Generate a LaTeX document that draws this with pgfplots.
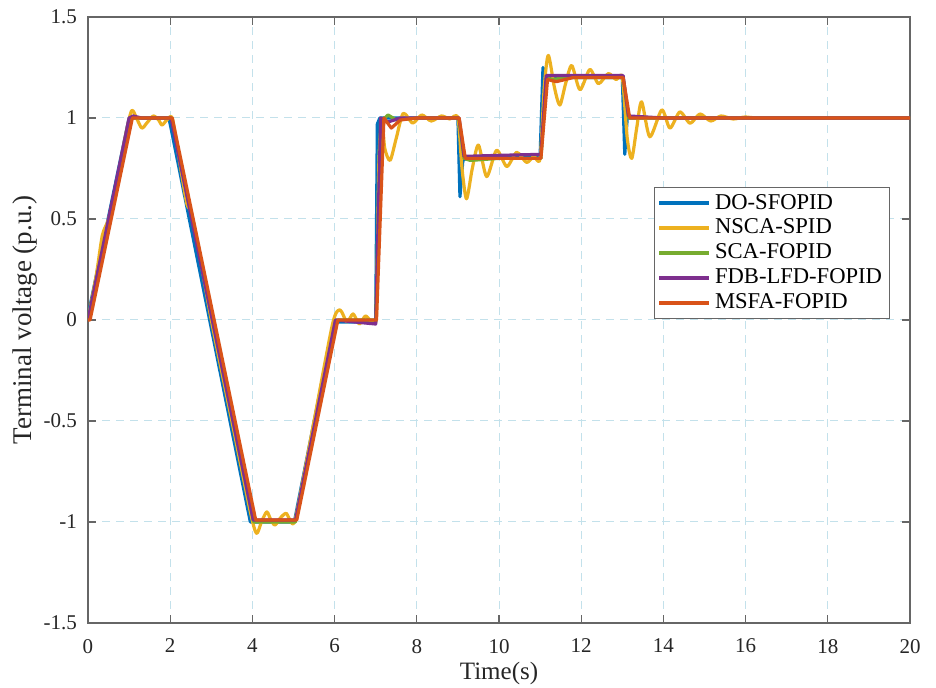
\documentclass[border=0pt]{standalone}
\usepackage{pgfplots}
\pgfplotsset{compat=1.18}
\usepackage{fontspec}
\setmainfont{Liberation Serif}
\definecolor{mblue}{rgb}{0,0.447,0.741}
\definecolor{myellow}{rgb}{0.929,0.694,0.125}
\definecolor{mgreen}{rgb}{0.466,0.674,0.188}
\definecolor{mpurple}{rgb}{0.494,0.184,0.556}
\definecolor{morange}{rgb}{0.85,0.325,0.098}
\definecolor{gridc}{RGB}{195,225,235}
\begin{document}
\begin{tikzpicture}
\begin{axis}[name=ax,
  scale only axis, width=411pt, height=303pt,
  xmin=0, xmax=20, ymin=-1.5, ymax=1.5,
  xtick={0,2,...,20}, ytick={-1.5,-1,-0.5,0,0.5,1,1.5},
  /pgf/number format/assume math mode=true,
  tick align=inside, tick pos=both, major tick length=4pt,
  axis line style={black!60, line width=0.6pt},
  tick style={black!60, line width=0.6pt},
  grid=major, major grid style={gridc, dash pattern=on 4pt off 3pt, line width=0.5pt},
  ticklabel style={font=\fontsize{10.5}{12}\selectfont, text=black!85},
  xticklabel style={yshift=-4.5pt},
  yticklabel style={xshift=-2pt},
  xlabel={Time(s)}, ylabel={Terminal voltage (p.u.)},
  xlabel style={font=\fontsize{12.5}{14}\selectfont, at={(axis description cs:0.5,-0.0825)}, anchor=center, text=black!85},
  ylabel style={font=\fontsize{13.5}{15}\selectfont, at={(axis description cs:-0.077,0.5)}, anchor=center, rotate=0, text=black!85},
  legend style={at={(rel axis cs:0.975,0.72)}, anchor=north east, draw=black!60, font=\fontsize{11.3}{13.5}\selectfont, cells={anchor=west}, inner sep=1.5pt, row sep=-0.5pt},
  legend image code/.code={\draw[#1, line width=1.6pt] (0pt,0pt) -- (25pt,0pt);},
  every axis plot/.append style={line width=1.6pt, line join=round},
]
\addplot[mblue] coordinates {(0,0)(0.03,0.05)(1.0,1.0)(1.97,1.0)(3.95,-1.0)(5.02,-1.0)(5.98,-0.01)(7.0,-0.01)(7.04,0.97)(7.1,1.0)(9.0,1.0)(9.05,0.61)(9.12,0.79)(9.2,0.8)(11.0,0.81)(11.07,1.25)(11.13,1.2)(13.0,1.2)(13.06,0.82)(13.12,1.0)(20,1.0)};
\addlegendentry{DO-SFOPID}
\addplot[myellow, smooth, tension=0.45] coordinates {(0,0)(0.2,0.22)(0.35,0.42)(0.5,0.5)(0.7,0.68)(0.9,0.9)(1.06,1.036)(1.18,1.0)(1.31,0.95)(1.45,0.98)(1.59,1.01)(1.72,0.99)(1.8,0.965)(1.92,0.99)(2.05,1.0)(2.2,0.82)(2.4,0.58)(2.5,0.54)(2.65,0.4)(3.0,0.0)(3.5,-0.5)(3.95,-0.95)(4.1,-1.056)(4.22,-1.0)(4.35,-0.95)(4.45,-0.99)(4.55,-1.015)(4.68,-0.98)(4.82,-0.957)(4.92,-0.99)(5.05,-0.98)(5.5,-0.5)(5.95,-0.02)(6.13,0.05)(6.3,-0.01)(6.45,0.03)(6.6,-0.02)(6.75,0.02)(6.88,-0.005)(6.98,0.0)(7.02,0.05)(7.08,0.8)(7.16,0.97)(7.22,0.85)(7.35,0.79)(7.5,0.9)(7.67,1.023)(7.9,0.975)(8.12,1.015)(8.35,0.985)(8.6,1.01)(8.8,0.995)(9.0,1.0)(9.1,0.75)(9.21,0.6)(9.35,0.75)(9.5,0.866)(9.7,0.71)(9.94,0.84)(10.19,0.76)(10.43,0.83)(10.67,0.78)(10.85,0.81)(11.0,0.8)(11.1,1.15)(11.2,1.31)(11.35,1.15)(11.48,1.064)(11.62,1.17)(11.77,1.26)(11.97,1.14)(12.21,1.24)(12.42,1.17)(12.66,1.22)(12.85,1.19)(13.0,1.2)(13.12,0.9)(13.23,0.80)(13.35,0.95)(13.47,1.08)(13.67,0.907)(13.96,1.04)(14.16,0.95)(14.4,1.03)(14.65,0.974)(14.89,1.02)(15.15,0.985)(15.4,1.01)(15.7,0.995)(16.0,1.005)(16.5,1.0)(20,1.0)};
\addlegendentry{NSCA-SPID}
\addplot[mgreen] coordinates {(0,0)(1.03,1.0)(1.1,1.0)(2.03,1.0)(4.03,-1.0)(5.05,-1.0)(6.05,0)(7.0,0)(7.12,0.98)(7.3,1.015)(7.5,0.99)(8,1.0)(9.02,1.0)(9.15,0.8)(9.3,0.79)(10,0.8)(11.02,0.8)(11.15,1.2)(11.3,1.19)(11.6,1.2)(13.02,1.2)(13.15,1.0)(20,1.0)};
\addlegendentry{SCA-FOPID}
\addplot[mpurple] coordinates {(0,0)(1.0,1.0)(1.1,1.01)(1.3,1.0)(2.02,1.0)(4.02,-0.99)(5.05,-0.99)(6.02,0.0)(6.5,-0.01)(7.0,-0.02)(7.12,1.0)(7.3,0.98)(7.6,1.0)(9.03,1.0)(9.15,0.81)(10,0.815)(11.02,0.82)(11.15,1.21)(13.02,1.21)(13.15,1.01)(14,1.0)(20,1.0)};
\addlegendentry{FDB-LFD-FOPID}
\addplot[morange] coordinates {(0,0)(0.05,0.0)(1.08,1.0)(2.05,1.0)(4.08,-0.99)(5.08,-0.99)(6.08,0.0)(7.02,0)(7.2,1.0)(7.38,0.95)(7.6,0.99)(8,1.0)(9.03,1.0)(9.18,0.8)(10,0.8)(11.02,0.8)(11.18,1.19)(11.4,1.18)(11.8,1.2)(13.02,1.2)(13.18,1.0)(20,1.0)};
\addlegendentry{MSFA-FOPID}
\end{axis}
\pgfresetboundingbox
\path ([shift={(-44pt,-32.5pt)}]ax.south west) rectangle ([shift={(13pt,8.5pt)}]ax.north east);
\end{tikzpicture}
\end{document}
